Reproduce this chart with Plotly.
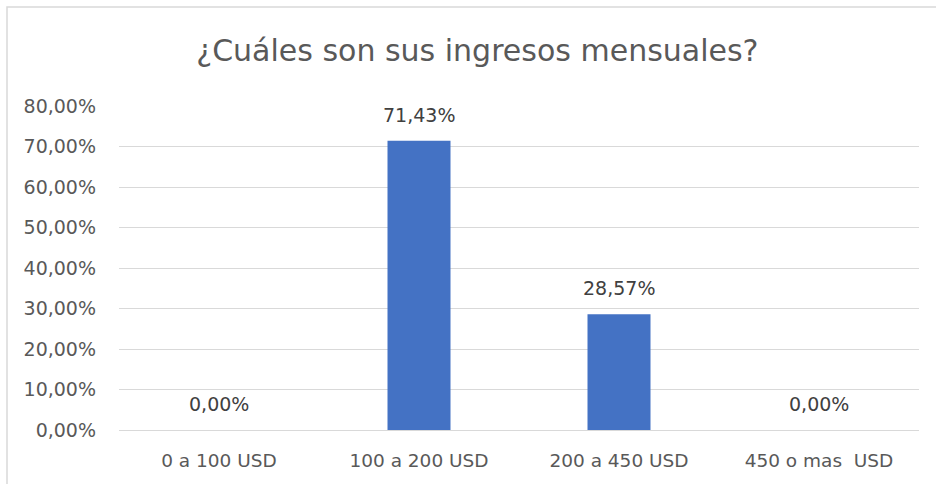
import plotly.graph_objects as go

categories = ["0 a 100 USD", "100 a 200 USD", "200 a 450 USD", "450 o mas  USD"]
values = [0.0, 0.7143, 0.2857, 0.0]
title_text = "¿Cuáles son sus ingresos mensuales?"

FONT = "DejaVu Sans, sans-serif"

fig = go.Figure()
fig.add_trace(go.Bar(
    x=categories, y=values,
    marker=dict(color="#4472C4", line=dict(width=0)),
    hoverinfo="skip",
))

for c, v in zip(categories, values):
    fig.add_annotation(
        x=c, y=v, xref="x", yref="y",
        text=f"{v*100:.2f}%".replace(".", ","),
        showarrow=False, yanchor="bottom", yshift=13,
        font=dict(family=FONT, size=19, color="#404040"),
    )

fig.update_layout(
    width=936, height=484,
    margin=dict(l=119, r=17, t=106, b=54),
    paper_bgcolor="white", plot_bgcolor="white",
    separators=",.",
    bargap=0.685,
    showlegend=False,
    title=dict(text=title_text, x=0.51, xanchor="center", y=0.895, yanchor="middle",
               xref="container", yref="container",
               font=dict(family=FONT, size=30, color="#595959")),
    font=dict(family=FONT, color="#595959"),
    xaxis=dict(
        showgrid=False, showline=False, zeroline=False,
        tickfont=dict(family=FONT, size=18.5, color="#595959"),
        ticks="", ticklabelstandoff=17,
    ),
    yaxis=dict(
        range=[0, 0.8], dtick=0.1, tickformat=".2%",
        showgrid=True, gridcolor="#d9d9d9", gridwidth=1.3,
        zeroline=True, zerolinecolor="#d9d9d9", zerolinewidth=1.3,
        showline=False, ticks="",
        tickfont=dict(family=FONT, size=19, color="#595959"),
        ticklabelstandoff=22,
    ),
)

fig.add_shape(type="rect", xref="paper", yref="paper",
              x0=-0.14, x1=1.2, y0=-0.5, y1=1.3056,
              line=dict(color="#d9d9d9", width=1.5), fillcolor="rgba(0,0,0,0)",
              layer="below")

fig.write_html("out.html", config={"displayModeBar": False},
               post_script="document.body.style.margin='0px';document.body.style.overflow='hidden';")
